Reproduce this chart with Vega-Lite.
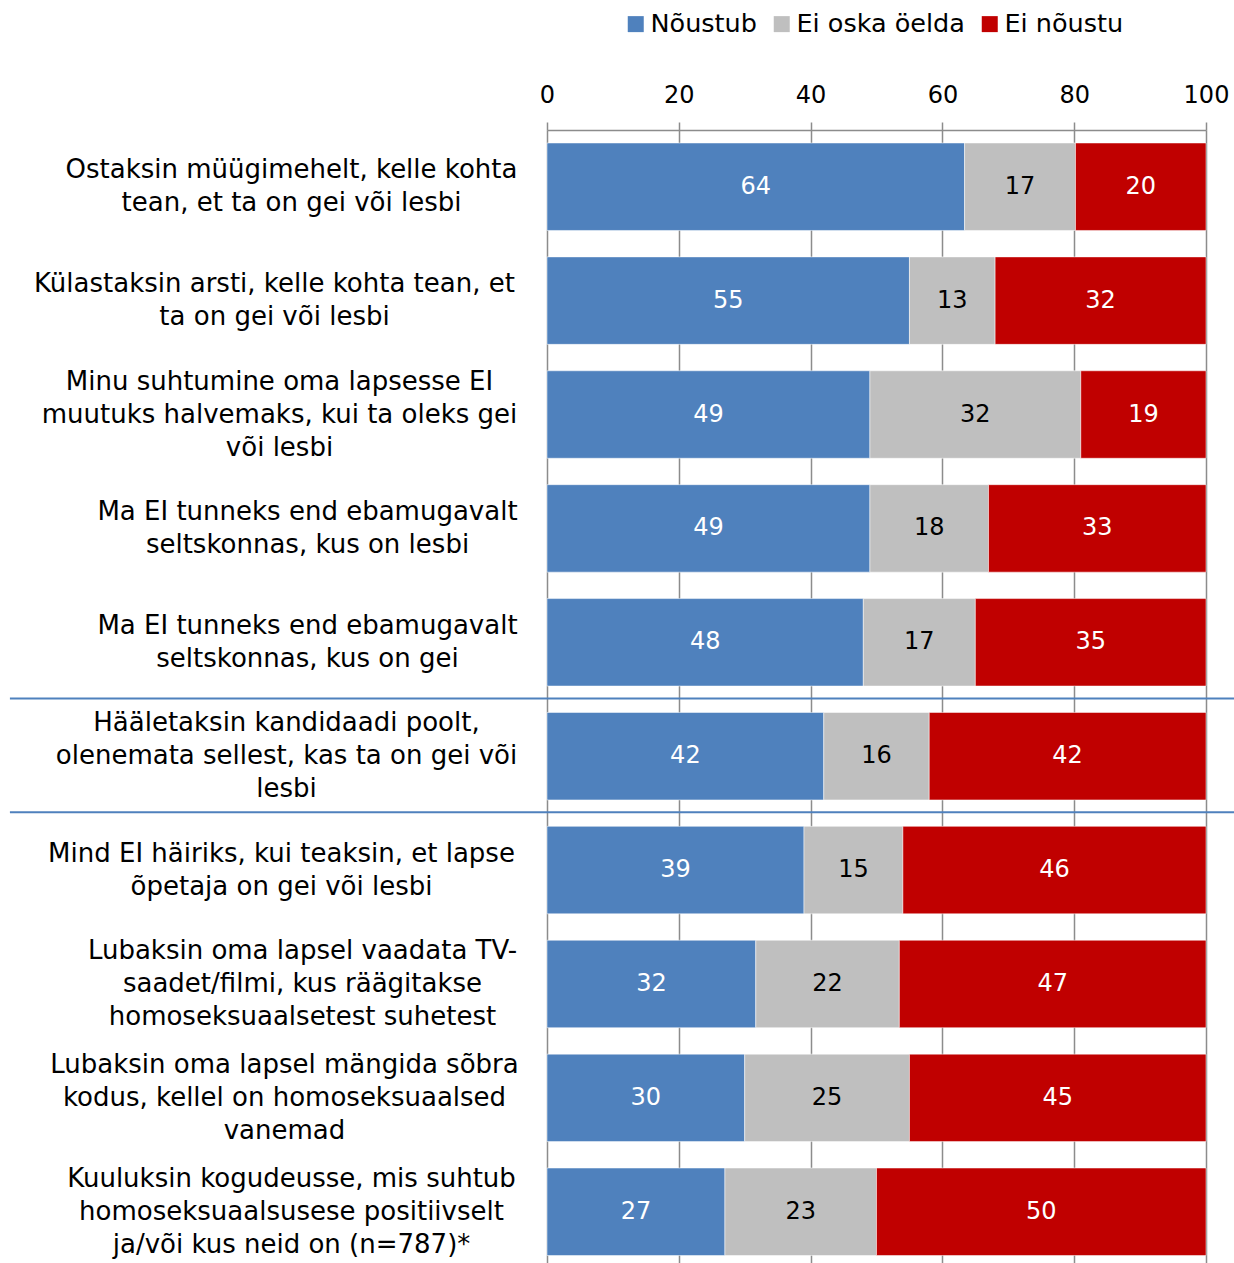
{
  "$schema": "https://vega.github.io/schema/vega-lite/v6.json",
  "width": 659,
  "height": 1133,
  "autosize": {"type": "none"},
  "padding": {"left": 547, "top": 130, "right": 28, "bottom": 0},
  "background": "white",
  "config": {"view": {"stroke": null}, "font": "DejaVu Sans"},
  "datasets": {
    "resp": [
      {"cat": "Ostaksin müügimehelt, kelle kohta|tean, et ta on gei või lesbi", "resp": "Nõustub", "o": 1, "v": 64},
      {"cat": "Ostaksin müügimehelt, kelle kohta|tean, et ta on gei või lesbi", "resp": "Ei oska öelda", "o": 2, "v": 17},
      {"cat": "Ostaksin müügimehelt, kelle kohta|tean, et ta on gei või lesbi", "resp": "Ei nõustu", "o": 3, "v": 20},
      {"cat": "Külastaksin arsti, kelle kohta tean, et|ta on gei või lesbi", "resp": "Nõustub", "o": 1, "v": 55},
      {"cat": "Külastaksin arsti, kelle kohta tean, et|ta on gei või lesbi", "resp": "Ei oska öelda", "o": 2, "v": 13},
      {"cat": "Külastaksin arsti, kelle kohta tean, et|ta on gei või lesbi", "resp": "Ei nõustu", "o": 3, "v": 32},
      {"cat": "Minu suhtumine oma lapsesse EI|muutuks halvemaks, kui ta oleks gei|või lesbi", "resp": "Nõustub", "o": 1, "v": 49},
      {"cat": "Minu suhtumine oma lapsesse EI|muutuks halvemaks, kui ta oleks gei|või lesbi", "resp": "Ei oska öelda", "o": 2, "v": 32},
      {"cat": "Minu suhtumine oma lapsesse EI|muutuks halvemaks, kui ta oleks gei|või lesbi", "resp": "Ei nõustu", "o": 3, "v": 19},
      {"cat": "Ma EI tunneks end ebamugavalt|seltskonnas, kus on lesbi", "resp": "Nõustub", "o": 1, "v": 49},
      {"cat": "Ma EI tunneks end ebamugavalt|seltskonnas, kus on lesbi", "resp": "Ei oska öelda", "o": 2, "v": 18},
      {"cat": "Ma EI tunneks end ebamugavalt|seltskonnas, kus on lesbi", "resp": "Ei nõustu", "o": 3, "v": 33},
      {"cat": "Ma EI tunneks end ebamugavalt|seltskonnas, kus on gei", "resp": "Nõustub", "o": 1, "v": 48},
      {"cat": "Ma EI tunneks end ebamugavalt|seltskonnas, kus on gei", "resp": "Ei oska öelda", "o": 2, "v": 17},
      {"cat": "Ma EI tunneks end ebamugavalt|seltskonnas, kus on gei", "resp": "Ei nõustu", "o": 3, "v": 35},
      {"cat": "Hääletaksin kandidaadi poolt,|olenemata sellest, kas ta on gei või|lesbi", "resp": "Nõustub", "o": 1, "v": 42},
      {"cat": "Hääletaksin kandidaadi poolt,|olenemata sellest, kas ta on gei või|lesbi", "resp": "Ei oska öelda", "o": 2, "v": 16},
      {"cat": "Hääletaksin kandidaadi poolt,|olenemata sellest, kas ta on gei või|lesbi", "resp": "Ei nõustu", "o": 3, "v": 42},
      {"cat": "Mind EI häiriks, kui teaksin, et lapse|õpetaja on gei või lesbi", "resp": "Nõustub", "o": 1, "v": 39},
      {"cat": "Mind EI häiriks, kui teaksin, et lapse|õpetaja on gei või lesbi", "resp": "Ei oska öelda", "o": 2, "v": 15},
      {"cat": "Mind EI häiriks, kui teaksin, et lapse|õpetaja on gei või lesbi", "resp": "Ei nõustu", "o": 3, "v": 46},
      {"cat": "Lubaksin oma lapsel vaadata TV-|saadet/filmi, kus räägitakse|homoseksuaalsetest suhetest", "resp": "Nõustub", "o": 1, "v": 32},
      {"cat": "Lubaksin oma lapsel vaadata TV-|saadet/filmi, kus räägitakse|homoseksuaalsetest suhetest", "resp": "Ei oska öelda", "o": 2, "v": 22},
      {"cat": "Lubaksin oma lapsel vaadata TV-|saadet/filmi, kus räägitakse|homoseksuaalsetest suhetest", "resp": "Ei nõustu", "o": 3, "v": 47},
      {"cat": "Lubaksin oma lapsel mängida sõbra|kodus, kellel on homoseksuaalsed|vanemad", "resp": "Nõustub", "o": 1, "v": 30},
      {"cat": "Lubaksin oma lapsel mängida sõbra|kodus, kellel on homoseksuaalsed|vanemad", "resp": "Ei oska öelda", "o": 2, "v": 25},
      {"cat": "Lubaksin oma lapsel mängida sõbra|kodus, kellel on homoseksuaalsed|vanemad", "resp": "Ei nõustu", "o": 3, "v": 45},
      {"cat": "Kuuluksin kogudeusse, mis suhtub|homoseksuaalsusese positiivselt|ja/või kus neid on (n=787)*", "resp": "Nõustub", "o": 1, "v": 27},
      {"cat": "Kuuluksin kogudeusse, mis suhtub|homoseksuaalsusese positiivselt|ja/või kus neid on (n=787)*", "resp": "Ei oska öelda", "o": 2, "v": 23},
      {"cat": "Kuuluksin kogudeusse, mis suhtub|homoseksuaalsusese positiivselt|ja/või kus neid on (n=787)*", "resp": "Ei nõustu", "o": 3, "v": 50}
    ],
    "sep": [
      {"cat": "Hääletaksin kandidaadi poolt,|olenemata sellest, kas ta on gei või|lesbi"},
      {"cat": "Mind EI häiriks, kui teaksin, et lapse|õpetaja on gei või lesbi"}
    ]
  },
  "layer": [
    {
      "data": {"name": "resp"},
      "mark": {"type": "bar", "stroke": "white", "strokeWidth": 0.5},
      "encoding": {
        "y": {
          "field": "cat", "type": "nominal", "sort": null,
          "scale": {"domain": [
            "Ostaksin müügimehelt, kelle kohta|tean, et ta on gei või lesbi",
            "Külastaksin arsti, kelle kohta tean, et|ta on gei või lesbi",
            "Minu suhtumine oma lapsesse EI|muutuks halvemaks, kui ta oleks gei|või lesbi",
            "Ma EI tunneks end ebamugavalt|seltskonnas, kus on lesbi",
            "Ma EI tunneks end ebamugavalt|seltskonnas, kus on gei",
            "Hääletaksin kandidaadi poolt,|olenemata sellest, kas ta on gei või|lesbi",
            "Mind EI häiriks, kui teaksin, et lapse|õpetaja on gei või lesbi",
            "Lubaksin oma lapsel vaadata TV-|saadet/filmi, kus räägitakse|homoseksuaalsetest suhetest",
            "Lubaksin oma lapsel mängida sõbra|kodus, kellel on homoseksuaalsed|vanemad",
            "Kuuluksin kogudeusse, mis suhtub|homoseksuaalsusese positiivselt|ja/või kus neid on (n=787)*"
          ], "paddingInner": 0.232, "paddingOuter": 0.09, "align": 0.634},
          "axis": {
            "title": null, "domain": false, "ticks": false, "grid": false,
            "labelAlign": "center", "labelBaseline": "middle",
            "labelPadding": {"condition": [
              {"test": "indexof(datum.value, 'Külastaksin') === 0", "value": 273},
              {"test": "indexof(datum.value, 'Minu') === 0", "value": 268},
              {"test": "indexof(datum.value, 'Ma EI') === 0", "value": 240},
              {"test": "indexof(datum.value, 'Hääletaksin') === 0", "value": 261},
              {"test": "indexof(datum.value, 'Mind') === 0", "value": 266},
              {"test": "indexof(datum.value, 'Lubaksin oma lapsel vaadata') === 0", "value": 245},
              {"test": "indexof(datum.value, 'Lubaksin oma lapsel mängida') === 0", "value": 263}
            ], "value": 256},
            "labelOffset": {"condition": {"test": "length(split(datum.value, '|')) === 3", "value": -33}, "value": -16.5},
            "labelFontSize": 26, "labelLineHeight": 33, "labelLimit": 0, "labelColor": "black",
            "labelFont": "DejaVu Sans",
            "labelExpr": "split(datum.label, '|')"
          }
        },
        "x": {
          "field": "v", "type": "quantitative", "stack": "normalize",
          "scale": {"domain": [0, 1], "nice": false},
          "axis": {
            "title": null, "orient": "top", "values": [0, 0.2, 0.4, 0.6, 0.8, 1],
            "labelExpr": "format(datum.value * 100, 'd')",
            "labelFlush": false, "labelOverlap": false,
            "labelFontSize": 24, "labelColor": "black", "labelFont": "DejaVu Sans",
            "labelBaseline": "alphabetic", "labelPadding": 20,
            "tickSize": 8, "tickColor": "#8c8c8c", "tickWidth": 1.5,
            "domainColor": "#8c8c8c", "domainWidth": 1.5,
            "grid": true, "gridColor": "#8c8c8c", "gridWidth": 1.5
          }
        },
        "color": {
          "field": "resp", "type": "nominal",
          "scale": {"domain": ["Nõustub", "Ei oska öelda", "Ei nõustu"], "range": ["#4F81BD", "#BFBFBF", "#C00000"]},
          "legend": {
            "title": null, "orient": "none", "legendX": 76, "legendY": -119,
            "direction": "horizontal", "symbolType": "square", "symbolSize": 256,
            "symbolStrokeWidth": 0, "labelFontSize": 25.5, "labelFont": "DejaVu Sans",
            "labelColor": "black", "labelOffset": 2, "columnPadding": 12, "padding": 0, "labelLimit": 0
          }
        },
        "order": {"field": "o", "type": "quantitative"}
      }
    },
    {
      "data": {"name": "resp"},
      "mark": {"type": "text", "fontSize": 24, "font": "DejaVu Sans", "baseline": "middle", "align": "center"},
      "encoding": {
        "y": {
          "field": "cat", "type": "nominal", "sort": null,
          "scale": {"domain": [
            "Ostaksin müügimehelt, kelle kohta|tean, et ta on gei või lesbi",
            "Külastaksin arsti, kelle kohta tean, et|ta on gei või lesbi",
            "Minu suhtumine oma lapsesse EI|muutuks halvemaks, kui ta oleks gei|või lesbi",
            "Ma EI tunneks end ebamugavalt|seltskonnas, kus on lesbi",
            "Ma EI tunneks end ebamugavalt|seltskonnas, kus on gei",
            "Hääletaksin kandidaadi poolt,|olenemata sellest, kas ta on gei või|lesbi",
            "Mind EI häiriks, kui teaksin, et lapse|õpetaja on gei või lesbi",
            "Lubaksin oma lapsel vaadata TV-|saadet/filmi, kus räägitakse|homoseksuaalsetest suhetest",
            "Lubaksin oma lapsel mängida sõbra|kodus, kellel on homoseksuaalsed|vanemad",
            "Kuuluksin kogudeusse, mis suhtub|homoseksuaalsusese positiivselt|ja/või kus neid on (n=787)*"
          ], "paddingInner": 0.232, "paddingOuter": 0.09, "align": 0.634},
          "axis": {
            "title": null, "domain": false, "ticks": false, "grid": false,
            "labelAlign": "center", "labelBaseline": "middle",
            "labelPadding": {"condition": [
              {"test": "indexof(datum.value, 'Külastaksin') === 0", "value": 273},
              {"test": "indexof(datum.value, 'Minu') === 0", "value": 268},
              {"test": "indexof(datum.value, 'Ma EI') === 0", "value": 240},
              {"test": "indexof(datum.value, 'Hääletaksin') === 0", "value": 261},
              {"test": "indexof(datum.value, 'Mind') === 0", "value": 266},
              {"test": "indexof(datum.value, 'Lubaksin oma lapsel vaadata') === 0", "value": 245},
              {"test": "indexof(datum.value, 'Lubaksin oma lapsel mängida') === 0", "value": 263}
            ], "value": 256},
            "labelOffset": {"condition": {"test": "length(split(datum.value, '|')) === 3", "value": -33}, "value": -16.5},
            "labelFontSize": 26, "labelLineHeight": 33, "labelLimit": 0, "labelColor": "black",
            "labelFont": "DejaVu Sans",
            "labelExpr": "split(datum.label, '|')"
          }
        },
        "x": {
          "field": "v", "type": "quantitative", "stack": "normalize", "bandPosition": 0.5,
          "scale": {"domain": [0, 1], "nice": false},
          "axis": {
            "title": null, "orient": "top", "values": [0, 0.2, 0.4, 0.6, 0.8, 1],
            "labelExpr": "format(datum.value * 100, 'd')",
            "labelFlush": false, "labelOverlap": false,
            "labelFontSize": 24, "labelColor": "black", "labelFont": "DejaVu Sans",
            "labelBaseline": "alphabetic", "labelPadding": 20,
            "tickSize": 8, "tickColor": "#8c8c8c", "tickWidth": 1.5,
            "domainColor": "#8c8c8c", "domainWidth": 1.5,
            "grid": true, "gridColor": "#8c8c8c", "gridWidth": 1.5
          }
        },
        "detail": {"field": "resp", "type": "nominal"},
        "order": {"field": "o", "type": "quantitative"},
        "text": {"field": "v", "type": "quantitative"},
        "color": {"condition": {"test": "datum.resp === 'Ei oska öelda'", "value": "black"}, "value": "white"}
      }
    },
    {
      "data": {"name": "sep"},
      "mark": {"type": "rule", "color": "#4F81BD", "strokeWidth": 2},
      "encoding": {
        "y": {
          "field": "cat", "type": "nominal", "sort": null, "bandPosition": -0.16,
          "scale": {"domain": [
            "Ostaksin müügimehelt, kelle kohta|tean, et ta on gei või lesbi",
            "Külastaksin arsti, kelle kohta tean, et|ta on gei või lesbi",
            "Minu suhtumine oma lapsesse EI|muutuks halvemaks, kui ta oleks gei|või lesbi",
            "Ma EI tunneks end ebamugavalt|seltskonnas, kus on lesbi",
            "Ma EI tunneks end ebamugavalt|seltskonnas, kus on gei",
            "Hääletaksin kandidaadi poolt,|olenemata sellest, kas ta on gei või|lesbi",
            "Mind EI häiriks, kui teaksin, et lapse|õpetaja on gei või lesbi",
            "Lubaksin oma lapsel vaadata TV-|saadet/filmi, kus räägitakse|homoseksuaalsetest suhetest",
            "Lubaksin oma lapsel mängida sõbra|kodus, kellel on homoseksuaalsed|vanemad",
            "Kuuluksin kogudeusse, mis suhtub|homoseksuaalsusese positiivselt|ja/või kus neid on (n=787)*"
          ], "paddingInner": 0.232, "paddingOuter": 0.09, "align": 0.634},
          "axis": {
            "title": null, "domain": false, "ticks": false, "grid": false,
            "labelAlign": "center", "labelBaseline": "middle",
            "labelPadding": {"condition": [
              {"test": "indexof(datum.value, 'Külastaksin') === 0", "value": 273},
              {"test": "indexof(datum.value, 'Minu') === 0", "value": 268},
              {"test": "indexof(datum.value, 'Ma EI') === 0", "value": 240},
              {"test": "indexof(datum.value, 'Hääletaksin') === 0", "value": 261},
              {"test": "indexof(datum.value, 'Mind') === 0", "value": 266},
              {"test": "indexof(datum.value, 'Lubaksin oma lapsel vaadata') === 0", "value": 245},
              {"test": "indexof(datum.value, 'Lubaksin oma lapsel mängida') === 0", "value": 263}
            ], "value": 256},
            "labelOffset": {"condition": {"test": "length(split(datum.value, '|')) === 3", "value": -33}, "value": -16.5},
            "labelFontSize": 26, "labelLineHeight": 33, "labelLimit": 0, "labelColor": "black",
            "labelFont": "DejaVu Sans",
            "labelExpr": "split(datum.label, '|')"
          }
        },
        "x": {"datum": -0.815, "type": "quantitative", "scale": {"domain": [0, 1], "nice": false}},
        "x2": {"datum": 1.0425}
      }
    }
  ]
}
